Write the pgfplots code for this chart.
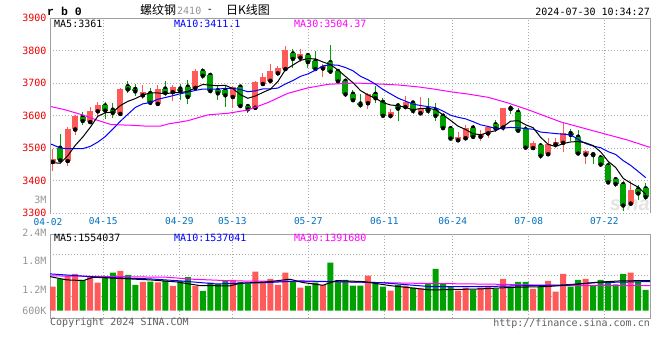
\documentclass[border=0pt]{standalone}
\usepackage{fontspec}
\usepackage{pgfplots}
\pgfplotsset{compat=1.18}
\usepackage{pgfplotstable}
\setmainfont{DejaVu Sans Mono}
\newfontfamily\mono{DejaVu Sans Mono}
\newfontfamily\monob{Liberation Mono}
\newfontfamily\sans{Liberation Sans}
\newfontfamily\cjk{Noto Sans CJK SC}
\definecolor{upred}{RGB}{255,90,90}
\definecolor{dngreen}{RGB}{0,160,0}
\definecolor{gridc}{RGB}{170,170,170}
\definecolor{framec}{RGB}{160,160,160}
\definecolor{tickred}{RGB}{235,0,0}
\definecolor{tickblue}{RGB}{0,112,192}
\definecolor{mablue}{RGB}{0,0,255}
\definecolor{mamag}{RGB}{255,0,255}
\definecolor{lgray}{RGB}{150,150,150}
\definecolor{dgray}{RGB}{95,95,95}
\newcommand{\fs}[1]{\fontsize{#1}{#1}\selectfont}

% up (red) candles: index open high low close volume(M)
\pgfplotstableread{
i o h l c v
0 3457 3496 3430 3465 1.166
2 3460 3564 3445 3560 1.418
3 3557 3603 3539 3598 1.465
5 3580 3625 3578 3615 1.386
6 3613 3641 3598 3631 1.260
9 3605 3685 3603 3683 1.536
12 3662 3695 3651 3671 1.276
14 3636 3695 3634 3683 1.268
16 3672 3695 3644 3687 1.182
19 3685 3742 3683 3737 1.182
24 3657 3690 3624 3687 1.323
27 3624 3707 3616 3703 1.520
28 3697 3730 3690 3717 1.284
29 3707 3759 3697 3737 1.347
30 3730 3753 3723 3747 1.205
31 3743 3813 3740 3801 1.496
33 3778 3804 3766 3789 1.142
36 3745 3759 3720 3753 1.198
42 3638 3670 3619 3667 1.425
45 3599 3619 3589 3611 1.072
47 3626 3660 3619 3641 1.190
49 3607 3656 3606 3622 1.127
54 3524 3550 3522 3533 1.072
55 3530 3570 3529 3563 1.142
57 3535 3556 3522 3544 1.142
58 3545 3568 3531 3565 1.166
60 3563 3624 3553 3623 1.347
64 3500 3523 3493 3515 1.111
66 3481 3530 3476 3511 1.300
67 3511 3530 3501 3520 1.048
68 3516 3576 3488 3546 1.465
71 3480 3495 3451 3490 1.347
77 3329 3400 3326 3372 1.496
}\uptab

% down (green) candles
\pgfplotstableread{
i o h l c v
1 3501 3542 3460 3462 1.347
4 3596 3610 3570 3583 1.323
7 3631 3643 3588 3615 1.402
8 3618 3637 3593 3608 1.496
10 3690 3707 3669 3680 1.441
11 3682 3698 3661 3674 1.205
13 3669 3685 3637 3639 1.284
15 3683 3707 3659 3669 1.308
17 3683 3697 3649 3675 1.300
18 3689 3710 3634 3657 1.386
20 3737 3747 3713 3722 1.064
21 3725 3732 3670 3675 1.260
22 3678 3690 3649 3668 1.229
23 3678 3690 3626 3662 1.308
25 3689 3695 3626 3629 1.276
26 3629 3634 3609 3619 1.229
32 3791 3806 3745 3774 1.284
34 3786 3793 3745 3764 1.182
35 3768 3798 3737 3743 1.260
37 3764 3818 3727 3735 1.732
38 3737 3740 3703 3705 1.284
39 3707 3710 3657 3665 1.323
40 3667 3680 3641 3647 1.190
41 3637 3665 3624 3632 1.190
43 3667 3692 3637 3653 1.245
44 3642 3653 3591 3599 1.166
46 3631 3639 3584 3621 1.205
48 3640 3645 3606 3614 1.142
50 3620 3654 3606 3614 1.245
51 3617 3637 3584 3599 1.583
52 3599 3609 3560 3561 1.245
53 3561 3568 3524 3529 1.166
56 3563 3571 3533 3534 1.087
59 3573 3586 3549 3560 1.111
61 3623 3632 3604 3620 1.166
62 3611 3622 3549 3553 1.276
63 3558 3568 3499 3501 1.276
65 3508 3515 3466 3476 1.166
69 3546 3557 3521 3540 1.166
70 3535 3554 3481 3483 1.323
72 3481 3486 3451 3478 1.190
73 3471 3478 3442 3449 1.323
74 3447 3460 3392 3394 1.260
75 3404 3409 3380 3389 1.221
76 3389 3397 3306 3323 1.465
78 3374 3387 3339 3360 1.284
79 3376 3392 3339 3349 1.087
}\dntab

\pgfplotstableread{
i v
-0.36 3455
0 3455
1 3453
2 3476
3 3508
4 3533.6
5 3563.6
6 3597.4
7 3608.4
8 3610.4
9 3630.4
10 3643.4
11 3652
12 3663.2
13 3669.4
14 3669.4
15 3667.2
16 3669.8
17 3670.6
18 3674.2
19 3685
20 3695.6
21 3693.2
22 3691.8
23 3692.8
24 3682.8
25 3664.2
26 3653
27 3660
28 3671
29 3681
30 3704.6
31 3741
32 3755.2
33 3769.6
34 3775
35 3774.2
36 3764.6
37 3756.8
38 3740
39 3720.2
40 3701
41 3676.8
42 3663.2
43 3652.8
44 3639.6
45 3632.4
46 3630.2
47 3625
48 3617.2
49 3621.8
50 3622.4
51 3618
52 3602
53 3585
54 3567.2
55 3557
56 3544
57 3540.6
58 3547.8
59 3553.2
60 3565.2
61 3582.4
62 3584.2
63 3571.4
64 3562.4
65 3533
66 3511.2
67 3504.6
68 3513.6
69 3518.6
70 3520
71 3515.8
72 3507.4
73 3488
74 3458.8
75 3440
76 3406.6
77 3392
78 3379.6
79 3357.4
}\mafive

\pgfplotstableread{
i v
-0.36 3513
0 3510
1 3500
2 3498
3 3498
4 3498
5 3505
6 3518
7 3535
8 3558
9 3582
10 3603.5
11 3624.7
12 3635.8
13 3639.9
14 3649.9
15 3655.3
16 3660.9
17 3666.9
18 3671.8
19 3677.2
20 3681.4
21 3681.5
22 3681.2
23 3683.5
24 3683.9
25 3679.9
26 3673.1
27 3675.9
28 3681.9
29 3681.9
30 3684.4
31 3697
32 3707.6
33 3720.3
34 3728
35 3739.4
36 3752.8
37 3756
38 3754.8
39 3747.6
40 3737.6
41 3720.7
42 3710
43 3696.4
44 3679.9
45 3666.7
46 3653.5
47 3644.1
48 3635
49 3630.7
50 3627.4
51 3624.1
52 3613.5
53 3601.1
54 3594.5
55 3589.7
56 3581
57 3571.3
58 3566.4
59 3560.2
60 3561.1
61 3563.2
62 3562.4
63 3559.6
64 3557.8
65 3549.1
66 3546.8
67 3544.4
68 3542.5
69 3540.5
70 3526.5
71 3513.5
72 3506
73 3500.8
74 3488.7
75 3480
76 3461.2
77 3446.4
78 3427.8
79 3408.7
}\maten

\pgfplotstableread{
i v
-0.36 3628
1.6 3618
3.8 3603
6.0 3585
7.8 3572
10.5 3570
12.7 3567
14.3 3567
15.4 3574
18 3584
20.7 3602
23.4 3607
26 3617
28.7 3640
31.3 3668
34 3685
36.7 3696
40.3 3700
43.4 3697
46 3694
48.7 3688
50.9 3681
53 3673
55.3 3666
58 3656
60.6 3639
63.3 3618
67.7 3580
72 3553
76.5 3525
79.57 3502
}\mathirty

\pgfplotstableread{
i v
-0.36 1.40
1.9 1.323
4.1 1.308
5.4 1.386
8.5 1.362
13 1.323
16.5 1.276
19.6 1.190
23.6 1.182
25 1.245
28.5 1.276
31.6 1.339
33.4 1.260
36 1.198
37.8 1.308
41.4 1.284
44.9 1.190
50.3 1.087
56.9 1.111
61.4 1.150
65.8 1.166
68.9 1.205
72.5 1.268
75.6 1.300
79.57 1.308
}\vfive

\pgfplotstableread{
i v
-0.36 1.465
6.3 1.386
13 1.347
17 1.300
21.8 1.229
28.5 1.260
33 1.300
36.9 1.284
43.6 1.260
50.3 1.166
56.9 1.166
68 1.205
72.5 1.260
79.57 1.284
}\vten

\pgfplotstableread{
i v
-0.36 1.418
15.2 1.386
18.7 1.339
24.1 1.300
32.9 1.284
36.9 1.284
48 1.245
59.2 1.221
68 1.190
79.57 1.190
}\vthirty

\begin{document}
\begin{tikzpicture}
\fill[white] (0,0) rectangle (660pt,360pt);
\path[use as bounding box] (0,0) rectangle (660pt,360pt);

\pgfplotsset{
  candlegrid/.style={
    grid style={draw=gridc, line width=1pt, dash pattern=on 1pt off 2pt},
    tick style={draw=none},
    clip mode=individual,
    xmin=-0.36, xmax=79.57,
    xtick={6.74,16.87,23.93,34.05,44.18,53.29,63.41,73.49},
  },
  wick/.style={only marks, mark=none, forget plot,
    error bars/.cd, y dir=both, y explicit, error mark=none,
    error bar style={draw=#1, line width=1pt}},
  body/.style={only marks, mark=none, forget plot,
    error bars/.cd, y dir=plus, y explicit, error mark=none,
    error bar style={draw=#1, line width=6pt}},
}

% faint sina watermark
\node[anchor=south east, inner sep=0pt, font=\sans\bfseries\itshape\fs{20}, text=lgray, text opacity=0.25] at (650pt,149pt) {sina};

% ---------- main candlestick panel ----------
\begin{axis}[candlegrid,
  at={(50pt,147pt)}, anchor=south west,
  width=600pt, height=195pt, scale only axis,
  ymin=3300, ymax=3900,
  axis line style={draw=none},
  xmajorgrids, ymajorgrids,
  ytick={3300,3400,3500,3600,3700,3800,3900},
  yticklabels={3300,3400,3500,3600,3700,3800,3900},
  yticklabel style={font=\mono\fs{10}, text=tickred},
  xticklabels={04-15,04-29,05-13,05-27,06-11,06-24,07-08,07-22},
  xticklabel style={font=\mono\fs{9.5}, text=tickblue, yshift=-1pt},
]
\addplot[wick=upred] table[x=i, y=o, y error plus expr=\thisrow{h}-\thisrow{o}, y error minus expr=\thisrow{o}-\thisrow{l}] {\uptab};
\addplot[wick=dngreen] table[x=i, y=o, y error plus expr=\thisrow{h}-\thisrow{o}, y error minus expr=\thisrow{o}-\thisrow{l}] {\dntab};
\addplot[body=upred] table[x=i, y=o, y error plus expr=\thisrow{c}-\thisrow{o}] {\uptab};
\addplot[body=dngreen] table[x=i, y=c, y error plus expr=\thisrow{o}-\thisrow{c}] {\dntab};
\addplot[mamag, line width=1pt] table[x=i, y=v] {\mathirty};
\addplot[mablue, line width=1pt] table[x=i, y=v] {\maten};
\addplot[black, line width=1pt] table[x=i, y=v] {\mafive};
\draw[framec, line width=1pt] (rel axis cs:0,0) -- (rel axis cs:0,1) -- (rel axis cs:1,1) -- (rel axis cs:1,0);
\end{axis}

% ---------- volume panel ----------
\begin{axis}[candlegrid,
  at={(50pt,42pt)}, anchor=south west,
  width=600pt, height=84pt, scale only axis,
  ymin=-0.172, ymax=1.802,
  axis line style={draw=framec, line width=1pt},
  xmajorgrids,
  xticklabels={},
  ytick={0,0.49,1.17,1.80},
  yticklabels={600K,1.2M,1.8M,\raisebox{3pt}{2.4M}},
  yticklabel style={font=\mono\fs{10}, text=lgray},
  extra y ticks={0.323,0.818,1.314},
  extra y tick labels={},
  extra y tick style={grid=major},
]
\addplot[ybar, bar width=6pt, bar shift=0pt, fill=upred, draw=none] table[x=i, y expr=\thisrow{v}-0.6] {\uptab};
\addplot[ybar, bar width=6pt, bar shift=0pt, fill=dngreen, draw=none] table[x=i, y expr=\thisrow{v}-0.6] {\dntab};
\addplot[mamag, line width=1pt] table[x=i, y expr=\thisrow{v}-0.6] {\vthirty};
\addplot[mablue, line width=1pt] table[x=i, y expr=\thisrow{v}-0.6] {\vten};
\addplot[black, line width=1pt] table[x=i, y expr=\thisrow{v}-0.6] {\vfive};
\end{axis}

% ---------- texts ----------
\node[anchor=west, inner sep=0pt, font=\monob\bfseries\fs{11.5}] at (47pt,349pt) {r b 0};
\node[anchor=west, inner sep=0pt, font=\cjk\fs{12}] at (140pt,350pt) {螺纹钢};
\node[anchor=west, inner sep=0pt, font=\mono\fs{10}, text=lgray] at (177pt,349pt) {2410};
\node[anchor=center, inner sep=0pt, font=\mono\fs{10}] at (210pt,349pt) {-};
\node[anchor=west, inner sep=0pt, font=\cjk\fs{12}] at (226pt,350pt) {日K线图};
\node[anchor=east, inner sep=0pt, font=\mono\fs{10}] at (650pt,348.5pt) {2024-07-30 10:34:27};

\node[anchor=west, inner sep=0pt, font=\mono\fs{10}] at (54pt,336pt) {MA5:3361};
\node[anchor=west, inner sep=0pt, font=\mono\fs{10}, text=mablue] at (174pt,336pt) {MA10:3411.1};
\node[anchor=west, inner sep=0pt, font=\mono\fs{10}, text=mamag] at (294pt,336pt) {MA30:3504.37};

\node[anchor=west, inner sep=0pt, font=\mono\fs{10}] at (54pt,122pt) {MA5:1554037};
\node[anchor=west, inner sep=0pt, font=\mono\fs{10}, text=mablue] at (174pt,122pt) {MA10:1537041};
\node[anchor=west, inner sep=0pt, font=\mono\fs{10}, text=mamag] at (294pt,122pt) {MA30:1391680};

\node[anchor=east, inner sep=0pt, font=\mono\fs{10}, text=lgray] at (46.5pt,160pt) {3M};
\node[anchor=center, inner sep=0pt, font=\mono\fs{9.5}, text=tickblue] at (48pt,138pt) {04-02};

\node[anchor=west, inner sep=0pt, font=\mono\fs{10}, text=dgray] at (50pt,37pt) {Copyright 2024 SINA.COM};
\node[anchor=east, inner sep=0pt, font=\mono\fs{10}, text=dgray] at (650pt,36.5pt) {http://finance.sina.com.cn};
\end{tikzpicture}
\end{document}
